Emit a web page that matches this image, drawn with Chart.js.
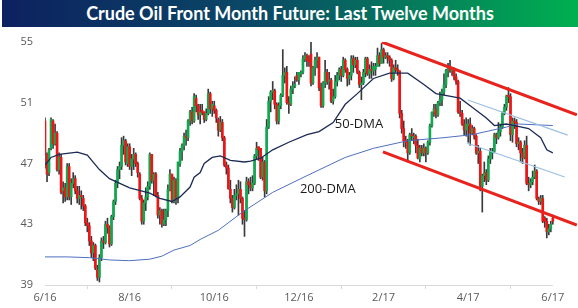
<!DOCTYPE html>
<html>
<head>
<meta charset="utf-8">
<title>Crude Oil Front Month Future</title>
<script src="https://cdn.jsdelivr.net/npm/chart.js@4/dist/chart.umd.min.js"></script>
<style>
  body { margin: 0; background: #fff; }
  #wrap { position: relative; width: 578px; height: 308px; }
  #oilChart { position: absolute; left: 0; top: 0; }
  #title {
    position: absolute; left: 2px; top: 0; width: 576px; height: 27px;
    background: linear-gradient(90deg, #0d2160 0%, #0a4a66 45%, #00b050 100%);
    color: #fff; font: bold 18px Lato, sans-serif; line-height: 27px; text-align: center;
  }
</style>
</head>
<body>
<div id="wrap">
  <canvas id="oilChart" width="578" height="308"></canvas>
  <div id="title">Crude Oil Front Month Future: Last Twelve Months</div>
</div>
<script>
// ---------------------------------------------------------------------------
// Data: daily candles, one per trading day (index 0 = late June 2016)
// ---------------------------------------------------------------------------
const tickLabels = ['6/16', '8/16', '10/16', '12/16', '2/17', '4/17', '6/17'];
const tickEvery = 42; // trading days between axis labels

const opens = [
  49.8,47.6,46.4,48.0,49.8,48.3,49.0,46.6,47.4,45.2,
  45.4,44.8,46.8,44.8,45.7,46.0,45.2,44.7,44.9,44.7,
  44.2,43.1,42.9,41.9,41.1,41.6,40.0,39.5,40.8,41.9,
  41.8,43.0,42.8,41.7,43.5,44.5,45.7,46.6,46.8,48.2,
  48.5,47.0,48.1,46.8,47.3,47.6,47.0,46.3,44.7,43.2,
  44.4,44.8,45.5,47.6,45.9,46.3,44.9,43.6,43.9,43.0,
  43.3,43.9,45.3,46.3,44.5,45.9,44.7,47.0,47.8,48.2,
  48.8,48.7,49.8,50.4,49.8,51.3,50.8,50.2,50.5,50.4,
  49.9,50.3,51.6,50.6,50.8,50.5,49.9,49.2,49.7,48.7,
  46.9,46.7,45.3,44.7,44.1,44.9,45.0,45.3,44.7,43.4,
  43.3,45.8,45.6,45.4,45.7,47.5,48.1,48.0,46.1,47.1,
  45.2,49.4,51.1,51.7,51.8,50.9,49.8,50.8,51.5,52.8,
  53.0,51.0,50.9,51.9,52.1,52.8,52.5,52.9,53.0,53.9,
  54.1,53.8,54.2,52.3,53.3,53.8,54.0,52.0,50.8,52.3,
  53.0,52.4,52.5,51.1,51.4,52.4,52.8,53.2,52.8,53.8,
  53.2,52.6,52.8,53.9,53.5,53.8,53.0,52.2,52.3,53.0,
  53.9,52.9,53.2,53.1,53.2,53.4,54.1,53.6,54.5,54.0,
  54.1,54.0,53.8,52.6,53.3,53.2,53.1,50.3,49.3,48.5,
  48.4,47.7,48.9,48.7,48.8,48.2,47.3,48.0,47.7,48.0,
  47.7,48.4,49.5,50.4,50.6,50.2,51.0,51.2,51.7,52.2,
  53.1,53.4,53.1,53.2,52.7,52.4,50.4,50.3,49.6,49.2,
  49.5,49.6,49.0,49.3,48.8,47.7,47.8,45.5,46.2,46.4,
  45.9,47.3,47.7,47.8,48.9,48.7,49.1,49.4,50.3,50.7,
  51.5,51.4,48.9,49.8,49.7,48.3,48.4,47.7,47.4,48.2,
  45.7,45.6,45.8,46.1,46.5,44.7,44.5,44.7,43.4,43.2,
  42.5,42.7,43.4
];
const highs = [
  50.0,47.7,48.0,50.0,49.9,49.6,49.1,47.7,47.6,45.8,
  45.7,47.0,47.0,46.0,46.4,46.2,45.5,45.5,45.2,44.9,
  44.3,43.4,43.1,42.2,41.8,41.7,40.3,41.0,42.1,42.2,
  43.2,43.4,42.9,43.6,44.6,45.9,46.8,47.1,48.7,48.8,
  48.6,48.3,48.3,47.6,48.0,47.7,47.1,46.4,44.9,44.6,
  45.4,45.8,47.7,47.6,46.4,46.4,45.1,44.1,44.0,44.0,
  44.0,45.6,46.6,46.3,46.1,46.0,47.1,48.0,48.3,49.0,
  49.2,49.9,50.5,50.7,51.6,51.5,50.9,50.9,50.9,50.4,
  50.6,51.9,51.7,51.1,51.1,50.6,50.0,50.1,49.9,48.8,
  47.1,46.9,45.9,44.9,45.3,45.6,45.9,45.8,44.8,43.9,
  46.1,46.0,46.1,46.2,47.6,48.4,48.1,48.0,47.4,47.2,
  49.9,51.4,51.8,52.4,51.9,51.0,51.0,51.6,54.5,53.3,
  53.4,51.4,52.1,52.4,52.7,53.0,53.0,53.1,54.1,54.3,
  54.2,54.1,55.2,53.4,54.0,54.3,54.0,52.3,52.4,53.8,
  53.2,53.0,52.6,51.9,52.8,53.0,53.3,53.4,54.0,53.9,
  53.3,53.0,54.1,54.1,54.0,54.0,53.1,52.7,53.2,54.0,
  54.0,53.5,53.7,53.6,53.6,54.6,54.3,54.9,54.6,54.3,
  54.3,54.1,53.9,53.5,53.8,53.5,53.1,50.5,49.8,48.8,
  48.6,49.0,49.3,49.0,48.9,48.6,48.2,48.2,48.3,48.1,
  48.5,49.6,50.4,50.9,50.9,51.1,51.7,51.9,52.9,53.2,
  53.6,53.8,53.3,53.3,52.9,52.5,51.1,50.5,49.9,50.0,
  49.9,50.0,49.5,49.4,48.9,48.2,48.0,46.3,47.1,46.6,
  47.5,48.0,48.0,49.0,49.0,49.7,49.6,50.4,50.9,51.5,
  52.0,51.6,50.0,50.0,49.9,48.7,48.5,48.0,48.5,48.8,
  46.1,46.0,46.5,46.9,46.6,44.8,44.9,44.9,43.5,43.4,
  43.0,43.2,43.6
];
const lows = [
  46.7,45.8,46.2,47.9,48.0,48.2,46.5,46.3,45.0,44.4,
  44.5,44.6,44.6,44.3,45.4,45.0,44.4,44.3,44.0,43.9,
  42.9,42.5,41.6,40.8,40.6,40.0,39.3,39.2,40.6,41.4,
  41.7,42.4,41.5,41.6,43.3,44.3,45.4,46.0,46.6,47.6,
  46.9,46.8,46.6,46.2,46.6,46.8,46.1,44.6,43.0,43.0,
  43.9,44.6,45.3,45.7,44.9,44.8,43.4,43.0,42.8,42.9,
  42.9,43.5,45.2,44.4,44.4,44.3,44.4,46.8,47.2,47.9,
  48.2,48.5,49.5,49.6,49.7,50.4,49.9,49.6,50.2,49.7,
  49.8,50.2,50.3,50.1,50.3,49.7,48.8,49.1,48.5,46.8,
  46.3,45.3,44.4,43.8,44.0,44.6,43.6,44.4,43.0,42.2,
  43.2,45.0,45.2,45.2,45.6,47.3,47.2,46.0,45.9,44.8,
  45.0,49.3,50.4,51.2,50.6,49.6,49.6,50.6,51.4,52.3,
  50.9,50.3,50.8,51.6,52.0,52.4,52.2,52.7,52.9,53.7,
  53.4,53.4,52.1,52.2,52.8,53.3,51.8,50.7,50.7,52.0,
  52.2,51.9,51.0,50.9,51.3,52.1,52.5,52.4,52.7,53.0,
  52.1,52.2,52.5,53.0,53.3,52.9,52.0,51.2,52.2,52.7,
  52.8,52.6,52.6,52.8,52.8,53.4,53.4,53.6,53.6,53.9,
  53.6,53.4,52.4,52.5,53.0,52.8,50.0,49.0,48.1,48.0,
  47.1,47.6,48.5,48.3,47.7,47.3,47.1,47.5,47.5,47.1,
  47.6,48.2,49.4,50.1,50.0,50.1,50.8,50.8,51.5,52.0,
  52.7,53.0,52.8,52.5,52.2,50.3,50.1,49.5,48.9,48.8,
  48.4,48.2,48.9,48.6,47.6,47.0,45.2,43.8,45.8,45.6,
  45.8,47.0,47.3,47.7,48.3,48.6,48.8,49.3,50.2,50.5,
  51.0,48.5,48.4,49.3,48.1,47.9,47.1,47.0,47.3,45.6,
  45.2,45.4,45.6,46.0,44.6,44.3,44.3,43.1,42.8,42.1,
  42.3,42.5,43.0
];
const closes = [
  47.6,46.3,47.9,49.9,48.3,49.0,46.6,47.4,45.1,45.4,
  44.8,46.8,44.8,45.7,46.0,45.2,44.7,44.9,44.8,44.2,
  43.1,42.9,41.9,41.1,41.6,40.1,39.5,40.8,41.9,41.8,
  43.0,42.8,41.7,43.5,44.5,45.7,46.6,46.8,48.2,48.5,
  47.1,48.1,46.8,47.3,47.6,47.0,46.4,44.7,43.2,44.4,
  44.8,45.5,47.6,45.9,46.3,44.9,43.6,43.9,43.0,43.3,
  43.9,45.3,46.3,44.5,45.9,44.7,47.1,47.8,48.2,48.8,
  48.7,49.8,50.4,49.8,51.4,50.8,50.2,50.4,50.35,49.9,
  50.3,51.6,50.6,50.9,50.5,50.0,49.2,49.7,48.7,46.9,
  46.7,45.35,44.7,44.1,44.9,45.0,45.3,44.7,43.4,43.3,
  45.8,45.6,45.4,45.7,47.5,48.0,47.9,46.1,47.1,45.2,
  49.4,51.1,51.7,51.8,50.9,49.8,50.8,51.5,52.8,53.0,
  51.0,50.9,51.9,52.1,52.2,52.5,53.0,53.0,53.9,54.1,
  53.8,53.7,52.3,53.3,53.8,54.0,52.0,50.8,52.3,53.0,
  52.4,52.5,51.1,51.4,52.4,52.8,53.2,52.8,53.8,53.2,
  52.6,52.8,53.9,53.5,53.8,53.0,52.2,52.3,53.0,53.9,
  52.9,53.2,53.1,53.4,53.4,54.1,53.6,54.5,54.0,54.1,
  54.0,53.8,52.6,53.3,53.2,53.1,50.3,49.3,48.5,48.4,
  47.7,48.9,48.8,48.8,48.2,47.35,48.0,47.7,48.0,47.7,
  48.4,49.5,50.35,50.6,50.2,51.0,51.2,51.7,52.2,53.1,
  53.4,53.1,53.2,52.7,52.4,50.4,50.3,49.6,49.2,49.6,
  49.6,49.0,49.3,48.8,47.7,47.8,45.5,46.2,46.4,45.9,
  47.3,47.8,47.8,48.9,48.7,49.1,49.4,50.3,50.7,51.45,
  51.4,48.9,49.8,49.7,48.3,48.4,47.7,47.4,48.2,45.7,
  45.6,45.8,46.1,46.5,44.7,44.5,44.7,43.2,43.2,42.5,
  42.7,43.0,43.2
];

// moving averages (at these trading-day positions)
const dma50Days = [0,3,7,16,21,27,32,42,52,57,63,67,72,74,77,79,83,87,92,99,102,107,113,121,130,136,143,149,155,163,171,180,188,194,206,212,219,223,229,233,240,246,249,252];
const dma50 = [46.9,47.4,47.6,47.75,47.55,46.6,46.0,45.4,45.05,44.7,44.5,44.8,45.45,46.1,46.4,47.0,47.4,47.5,47.2,47.1,47.15,47.35,47.9,48.4,48.9,49.1,49.7,50.9,51.6,52.6,52.95,52.95,52.2,51.6,51.3,50.7,50.0,49.5,49.6,49.5,49.3,48.7,47.9,47.7];
const dma200Days = [0,11,22,32,42,52,58,64,72,77,86,98,113,130,149,163,180,198,212,229,235,252];
const dma200 = [40.85,40.85,40.8,40.65,40.6,40.7,40.9,41.3,41.6,42.0,42.6,43.8,45.1,46.2,47.4,48.0,48.5,48.7,48.9,49.4,49.6,49.5];

// hand-drawn trend channels: [start, end]
const redUpperDays = [167.2, 263.9];
const redUpper = [55.0, 50.2];
const redLowerDays = [167.7, 263.9];
const redLower = [47.76, 42.95];
const blueUpperDays = [209.8, 259.4];
const blueUpper = [51.18, 48.87];
const blueLowerDays = [209.3, 257.9];
const blueLower = [48.35, 46.11];

// ---------------------------------------------------------------------------
// Styling
// ---------------------------------------------------------------------------
const upColor = '#11a84f';
const downColor = '#f01414';
const wickColor = '#3a3a3a';
const labelColor = '#595959';
const maLabels = [
  { text: '50-DMA', day: 143.8, price: 49.55 },
  { text: '200-DMA', day: 126.5, price: 45.3 }
];

// ---------------------------------------------------------------------------
// Helpers
// ---------------------------------------------------------------------------
function toPoints(days, values) {
  return days.map((d, i) => ({ x: d, y: values[i] }));
}

function lineSet(days, values, color, width, order) {
  return {
    type: 'line',
    data: toPoints(days, values),
    borderColor: color,
    borderWidth: width,
    pointRadius: 0,
    tension: 0,
    fill: false,
    order: order
  };
}

const wickData = closes.map((c, i) => ({ x: i, y: [lows[i], highs[i]] }));
const bodyData = closes.map((c, i) => ({ x: i, y: [opens[i], c] }));
const bodyColors = closes.map((c, i) => (c >= opens[i] ? upColor : downColor));

// axis line and the moving-average labels
const overlayPlugin = {
  id: 'overlay',
  afterDatasetsDraw(chart) {
    const { ctx, scales: { x, y } } = chart;
    ctx.save();
    ctx.strokeStyle = '#d9d9d9';
    ctx.lineWidth = 1;
    ctx.beginPath();
    ctx.moveTo(x.getPixelForValue(0), y.bottom + 0.5);
    ctx.lineTo(x.getPixelForValue(tickEvery * (tickLabels.length - 1)), y.bottom + 0.5);
    ctx.stroke();

    ctx.fillStyle = '#1a1a1a';
    ctx.font = '13px "Open Sans"';
    ctx.textBaseline = 'middle';
    maLabels.forEach(l => {
      ctx.fillText(l.text, x.getPixelForValue(l.day), y.getPixelForValue(l.price));
    });
    ctx.restore();
  }
};

// ---------------------------------------------------------------------------
// Chart
// ---------------------------------------------------------------------------
new Chart(document.getElementById('oilChart'), {
  type: 'bar',
  data: {
    datasets: [
      lineSet(redUpperDays, redUpper, '#e8221c', 3, 0),
      lineSet(redLowerDays, redLower, '#e8221c', 3, 0),
      lineSet(blueUpperDays, blueUpper, '#9cbfe3', 1.2, 1),
      lineSet(blueLowerDays, blueLower, '#9cbfe3', 1.2, 1),
      lineSet(dma50Days, dma50, '#1c2a55', 1.3, 2),
      lineSet(dma200Days, dma200, '#4f6fbf', 1, 2),
      {
        type: 'bar',
        data: bodyData,
        backgroundColor: bodyColors,
        borderWidth: 0,
        barThickness: 2,
        minBarLength: 1,
        grouped: false,
        order: 3
      },
      {
        type: 'bar',
        data: wickData,
        backgroundColor: wickColor,
        borderWidth: 0,
        barThickness: 1,
        grouped: false,
        order: 4
      }
    ]
  },
  options: {
    responsive: false,
    animation: false,
    events: [],
    layout: { padding: { top: 42, right: 1, left: 0, bottom: 0 } },
    plugins: {
      legend: { display: false },
      tooltip: { enabled: false },
      title: { display: false }
    },
    scales: {
      x: {
        type: 'linear',
        min: 0,
        max: 264,
        offset: false,
        border: { display: false },
        grid: { drawOnChartArea: false, drawTicks: true, tickLength: 4, color: '#d9d9d9' },
        afterBuildTicks: s => {
          s.ticks = s.ticks.filter(t => t.value % tickEvery === 0 && t.value <= tickEvery * (tickLabels.length - 1));
        },
        afterFit: s => { s.height = 23; },
        ticks: {
          stepSize: tickEvery,
          includeBounds: false,
          autoSkip: false,
          maxRotation: 0,
          padding: 2,
          color: labelColor,
          font: { family: '"Open Sans"', size: 11 },
          callback: v => tickLabels[v / tickEvery]
        }
      },
      y: {
        min: 39,
        max: 55,
        border: { display: false },
        grid: { display: false, drawTicks: false },
        afterFit: s => { s.width = 45; },
        ticks: {
          stepSize: 4,
          padding: 12,
          color: labelColor,
          font: { family: '"Open Sans"', size: 11 }
        }
      }
    }
  },
  plugins: [overlayPlugin]
});
</script>
</body>
</html>
